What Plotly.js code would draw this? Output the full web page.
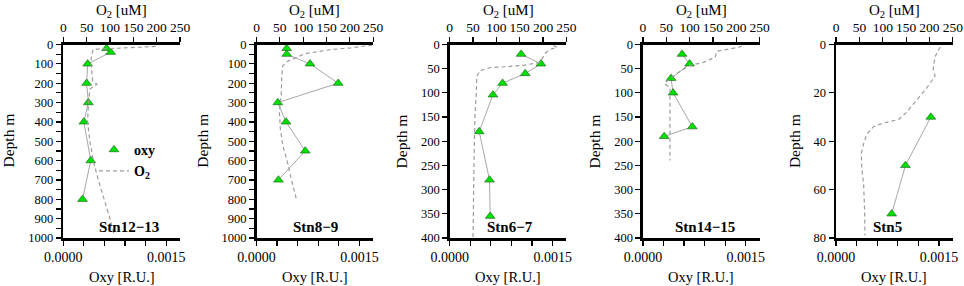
<!DOCTYPE html>
<html><head><meta charset="utf-8">
<script src="https://cdn.plot.ly/plotly-3.0.1.min.js"></script>
<style>
html,body{margin:0;padding:0;background:#fff}
#chart{width:964px;height:286px}
</style>
</head><body><div id="chart"></div>
<script>
// ---- data ----
const stationNames = ["Stn12\u221213", "Stn8\u22129", "Stn6\u22127", "Stn14\u221215", "Stn5"];
const depthMax = [1000, 1000, 400, 400, 80];
const depthTickStep = [100, 100, 50, 50, 20];
const depthMinorStep = [50, 50, 0, 0, 0];

const oxyDepth1 = [20, 40, 100, 200, 300, 400, 600, 800];
const oxy1 = [0.00063, 0.00069, 0.000355, 0.00034, 0.000365, 0.0003, 0.0004, 0.00028];
const o2Depth1 = [10, 15, 25, 50, 85, 140, 190, 205, 230, 295, 400, 500, 600, 700, 810, 900, 985];
const o2_1 = [198, 140, 64, 61, 59, 61, 63, 72, 57, 54, 52, 57, 64, 75, 89, 100, 109];

const oxyDepth2 = [20, 50, 100, 200, 300, 400, 550, 700];
const oxy2 = [0.00044, 0.00044, 0.00078, 0.00119, 0.00031, 0.00043, 0.00071, 0.00032];
const o2Depth2 = [3, 10, 17, 26, 48, 86, 112, 173, 259, 345, 432, 518, 604, 691, 777, 795];
const o2_2 = [248, 230, 203, 160, 103, 67, 56, 54, 53, 49, 51, 56, 66, 74, 83, 85];

const oxyDepth3 = [20, 40, 60, 80, 104, 180, 280, 355];
const oxy3 = [0.00104, 0.00133, 0.0011, 0.00077, 0.00063, 0.00043, 0.00058, 0.00059];
const o2Depth3 = [2, 6, 10, 18, 37, 43, 46, 48, 54, 66, 100, 150, 250, 360, 398];
const o2_3 = [222, 230, 215, 205, 193, 158, 120, 86, 65, 58, 57, 54, 52, 50, 50];

const oxyDepth4 = [20, 40, 70, 100, 170, 190];
const oxy4 = [0.00057, 0.00068, 0.00041, 0.00044, 0.00072, 0.00031];
const o2Depth4 = [3, 5, 14, 26, 37, 43, 55, 69, 80, 90, 150, 240];
const o2_4 = [212, 208, 158, 155, 130, 101, 80, 62, 46, 58, 58, 58];

const oxyDepth5 = [30, 50, 70];
const oxy5 = [0.00138, 0.00101, 0.00081];
const o2Depth5 = [1, 5, 10, 13, 18, 23, 28, 31, 32.5, 34, 37, 41, 45, 51, 58, 68, 79];
const o2_5 = [223, 212, 208, 212, 194, 173, 151, 134, 101, 80, 66, 59, 54, 55, 59, 61, 62];

const oxyTickVals = [0, 0.0015];
const oxyTickText = ["0.0000", "0.0015"];
const oxyMinorTickVals = [0.0003, 0.0006, 0.0009, 0.0012];
const o2TickVals = [0, 50, 100, 150, 200, 250];
const o2TickText = ["0", "50", "100", "150", "200", "250"];

const oxyDepths = [oxyDepth1, oxyDepth2, oxyDepth3, oxyDepth4, oxyDepth5];
const oxyVals = [oxy1, oxy2, oxy3, oxy4, oxy5];
const o2Depths = [o2Depth1, o2Depth2, o2Depth3, o2Depth4, o2Depth5];
const o2Vals = [o2_1, o2_2, o2_3, o2_4, o2_5];

// ---- layout geometry (pixels) ----
const W = 964, H = 286;
const FONT = "Liberation Serif, Times New Roman, serif";
const panelLeft0 = 63.3, panelStep = 193.2, panelWidth = 116.7;
const plotTop = 44.5, plotBottom = 238;
const stnLabelOffset = [33.4, 34.5, 35, 30.6, 34.7];
const depthTitleOffset = [-55.8, -54.8, -48.3, -49.4, -42];
const px = v => v / W;
const py = v => 1 - v / H;

const traces = [];
const layout = {
  width: W, height: H,
  margin: {l: 0, r: 0, t: 0, b: 0, pad: 0},
  paper_bgcolor: "#fff", plot_bgcolor: "rgba(0,0,0,0)",
  font: {family: FONT, color: "#000"},
  showlegend: true,
  legend: {
    x: px(94), y: py(134), xanchor: "left", yanchor: "top",
    bgcolor: "rgba(0,0,0,0)", borderwidth: 0,
    font: {family: FONT, size: 14, color: "#000"},
    itemwidth: 30, tracegroupgap: 0, traceorder: "normal"
  },
  annotations: [],
  hovermode: false
};

const green = "#00e000";
const triMarker = {symbol: "triangle-up", size: 8.5, color: green, line: {color: "#1a5a1a", width: 0.6}};
const o2Line = {color: "#9c9c9c", width: 1.2, dash: "4px,3px"};
for (let k = 0; k < 5; k++) {
  const bx = k === 0 ? "x" : "x" + (2 * k + 1);
  const tx = "x" + (2 * k + 2);
  const yy = k === 0 ? "y" : "y" + (k + 1);
  const bxName = k === 0 ? "xaxis" : "xaxis" + (2 * k + 1);
  const txName = "xaxis" + (2 * k + 2);
  const yName = k === 0 ? "yaxis" : "yaxis" + (k + 1);
  const left = panelLeft0 + panelStep * k;
  const dom = [px(left), px(left + panelWidth)];

  traces.push({
    x: o2Vals[k], y: o2Depths[k], xaxis: tx, yaxis: yy,
    type: "scatter", mode: "lines", showlegend: k === 0, name: "<b>O<sub>2</sub></b>", legendrank: 2,
    line: o2Line
  });
  traces.push({
    x: oxyVals[k], y: oxyDepths[k], xaxis: bx, yaxis: yy,
    type: "scatter", mode: "lines", showlegend: false,
    line: {color: "#a8a8a8", width: 1}
  });
  traces.push({
    x: oxyVals[k], y: oxyDepths[k], xaxis: bx, yaxis: yy,
    type: "scatter", mode: "markers", showlegend: k === 0, name: "<b>oxy</b>", legendrank: 1,
    marker: triMarker
  });

  const common = {
    ticks: "outside", ticklen: 5, tickwidth: 1.2, tickcolor: "#000",
    showline: true, linewidth: 2.5, linecolor: "#000",
    showgrid: false, zeroline: false, fixedrange: true, automargin: false
  };
  layout[bxName] = Object.assign({}, common, {
    domain: dom, anchor: yy, range: [0, 0.0017],
    tickmode: "array", tickvals: oxyTickVals, ticktext: oxyTickText,
    minor: {tickmode: "array", tickvals: oxyMinorTickVals, ticks: "outside", ticklen: 5, tickwidth: 1.2, tickcolor: "#000", showgrid: false},
    tickfont: {family: FONT, size: 14, color: "#000"}
  });
  layout[txName] = Object.assign({}, common, {
    domain: dom, anchor: yy, overlaying: bx, side: "top", range: [0, 250],
    tickmode: "array", tickvals: o2TickVals, ticktext: o2TickText,
    tickfont: {family: FONT, size: 13.5, color: "#000"}
  });
  const yax = Object.assign({}, common, {
    domain: [py(plotBottom), py(plotTop)], anchor: bx, side: "left",
    range: [depthMax[k], 0], tick0: 0, dtick: depthTickStep[k],
    tickfont: {family: FONT, size: 12.5, color: "#000"}
  });
  if (depthMinorStep[k]) {
    yax.minor = {dtick: depthMinorStep[k], tick0: 0, ticks: "outside", ticklen: 5, tickwidth: 1.2, tickcolor: "#000", showgrid: false};
  }
  layout[yName] = yax;

  const cx = left + panelWidth / 2;
  layout.annotations.push(
    {text: "O<sub>2</sub> [uM]", xref: "paper", yref: "paper", x: px(cx), y: py(11),
     xanchor: "center", yanchor: "middle", showarrow: false, font: {family: FONT, size: 15, color: "#000"}},
    {text: "Oxy [R.U.]", xref: "paper", yref: "paper", x: px(cx), y: py(276.5),
     xanchor: "center", yanchor: "middle", showarrow: false, font: {family: FONT, size: 14.5, color: "#000"}},
    {text: "Depth m", xref: "paper", yref: "paper", x: px(left + depthTitleOffset[k]), y: py(141),
     xanchor: "center", yanchor: "middle", textangle: -90, showarrow: false, font: {family: FONT, size: 15.5, color: "#000"}},
    {text: "<b>" + stationNames[k] + "</b>", xref: "paper", yref: "paper", x: px(left + stnLabelOffset[k]), y: py(227),
     xanchor: "left", yanchor: "middle", showarrow: false, font: {family: FONT, size: 15, color: "#000"}}
  );
}

Plotly.newPlot("chart", traces, layout, {staticPlot: true, displayModeBar: false});
</script>
</body></html>
